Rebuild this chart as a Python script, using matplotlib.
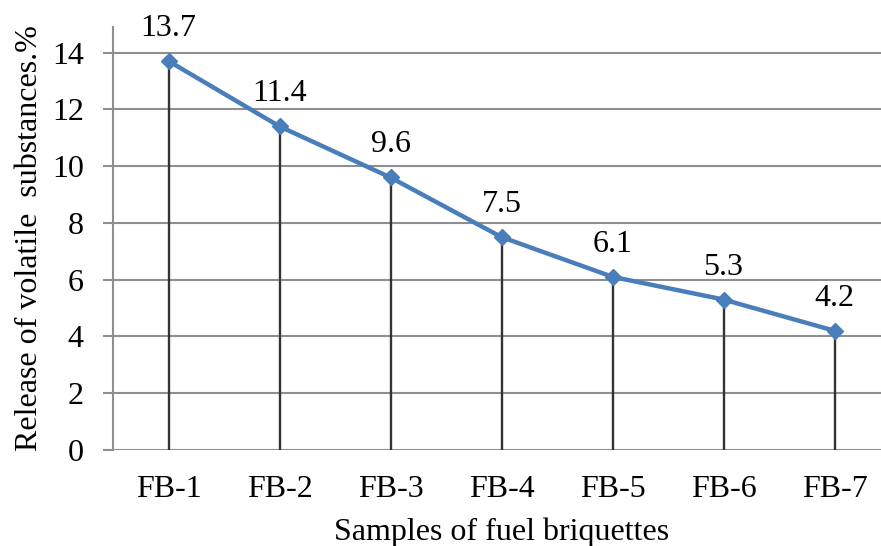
import matplotlib
matplotlib.use("Agg")
import matplotlib.pyplot as plt

# data
samples = ['FB-1', 'FB-2', 'FB-3', 'FB-4', 'FB-5', 'FB-6', 'FB-7']
volatiles = [13.7, 11.4, 9.6, 7.5, 6.1, 5.3, 4.2]
y_ticks = [0, 2, 4, 6, 8, 10, 12, 14]

plt.rcParams['font.family'] = ['Liberation Serif', 'DejaVu Serif']
plt.rcParams['font.size'] = 23

fig = plt.figure(figsize=(8.81, 5.46), dpi=100)
ax = fig.add_axes([113 / 881, 96 / 546, 777 / 881, 423 / 546])

x = list(range(len(samples)))

# grid
ax.set_yticks(y_ticks)
ax.yaxis.grid(True, color='#8f8f8f', linewidth=1.5)
ax.set_axisbelow(True)

# drop lines
ax.vlines(x, 0, volatiles, color='#333333', linewidth=1.7, zorder=2)

# main line
ax.plot(x, volatiles, color='#4a7ebb', linewidth=3.2, marker='D',
        markersize=8, zorder=3)

for xi, v in zip(x, volatiles):
    ax.annotate(f'{v}', (xi, v), xytext=(0, 18), textcoords='offset points',
                ha='center', va='baseline', fontsize=23)

ax.set_xlim(-0.5, 6.5)
ax.set_ylim(0, 14.9)
ax.set_xticks(x)
ax.set_xticklabels(samples)

for s in ['top', 'right', 'bottom']:
    ax.spines[s].set_visible(False)
ax.spines['left'].set_color('#8f8f8f')
ax.spines['left'].set_linewidth(1.5)

ax.tick_params(axis='y', direction='out', length=7, width=1.5,
               color='#8f8f8f', pad=14)
ax.tick_params(axis='x', length=0, pad=18)

ax.set_xlabel('Samples of fuel briquettes', labelpad=10)
ax.set_ylabel('Release of volatile  substances.%', labelpad=6)

fig.savefig('out.png', dpi=100)
